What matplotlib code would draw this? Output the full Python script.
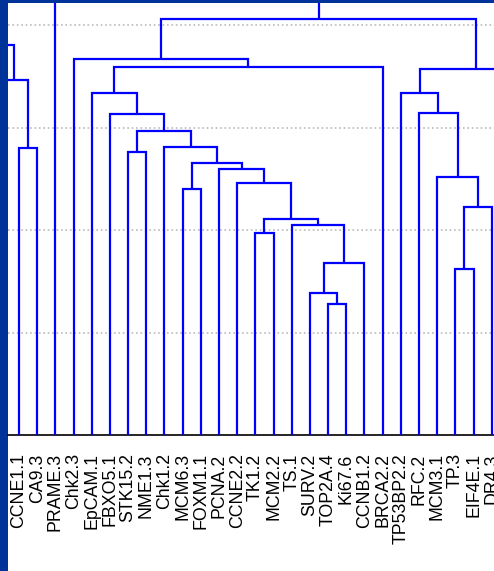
import matplotlib
matplotlib.use("Agg")
import matplotlib.pyplot as plt
from matplotlib.patches import Rectangle

# leaves shown on the axis (left to right)
leaves = ["CCNE1.1", "CA9.3", "PRAME.3", "Chk2.3", "EpCAM.1", "FBXO5.1", "STK15.2",
          "NME1.3", "Chk1.2", "MCM6.3", "FOXM1.1", "PCNA.2", "CCNE2.2", "TK1.2",
          "MCM2.2", "TS.1", "SURV.2", "TOP2A.4", "Ki67.6", "CCNB1.2", "BRCA2.2",
          "TP53BP2.2", "RFC.2", "MCM3.1", "TP.3", "EIF4E.1", "DR4.3"]
# leaves of the full tree that fall outside the cropped view
hidden_left = ["x1", "x2", "x3"]
hidden_right = ["y1", "y2", "y3"]

# merges: node name, left child, right child, height
merge_name = ["a1", "a2", "a3", "a4",
              "b1", "b2", "b3", "b4", "b5", "b6", "b7", "b8", "b9", "b10",
              "b11", "b12", "b13", "b14", "b15", "b16", "b17",
              "c1", "c2", "c3", "c4", "c5", "c6", "c7", "c8",
              "d0", "d1", "d2"]
merge_left = ["CCNE1.1", "x1", "x3", "a3",
              "TOP2A.4", "SURV.2", "b2", "TS.1", "TK1.2", "b5", "CCNE2.2", "PCNA.2",
              "MCM6.3", "b9", "Chk1.2", "STK15.2", "b12", "FBXO5.1", "EpCAM.1",
              "b15", "Chk2.3",
              "TP.3", "c1", "MCM3.1", "RFC.2", "TP53BP2.2", "y1", "c6", "c5",
              "b17", "a4", "d1"]
merge_right = ["CA9.3", "a1", "x2", "a2",
               "Ki67.6", "b1", "CCNB1.2", "b3", "MCM2.2", "b4", "b6", "b7",
               "FOXM1.1", "b8", "b10", "NME1.3", "b11", "b13", "b14",
               "BRCA2.2", "b16",
               "EIF4E.1", "DR4.3", "c2", "c3", "c4", "y2", "y3", "c7",
               "c8", "PRAME.3", "d0"]
merge_height = [2.800, 3.463, 3.00, 3.805,
                1.280, 1.384, 1.679, 2.050, 1.972, 2.108, 2.456, 2.593,
                2.401, 2.654, 2.807, 2.758, 2.966, 3.132, 3.333,
                3.585, 3.663,
                1.621, 2.225, 2.517, 3.146, 3.336, 2.9, 3.2, 3.570,
                4.058, 4.40, 4.70]

pos = {}
hgt = {}
for i, name in enumerate(leaves):
    pos[name] = i
    hgt[name] = 0.0
for i, name in enumerate(hidden_left):
    pos[name] = -1 - i
    hgt[name] = 0.0
for i, name in enumerate(hidden_right):
    pos[name] = len(leaves) + i
    hgt[name] = 0.0

fig = plt.figure(figsize=(4.94, 5.71), dpi=100, facecolor="#003399")
fig.patches.append(Rectangle((8 / 494, 0), 1, 1 - 3.3 / 571, transform=fig.transFigure,
                             facecolor="white", edgecolor="none", zorder=-10))
ax = fig.add_axes([8 / 494, (571 - 435.3) / 571, 1 - 8 / 494, (435.3 - 3.3) / 571])
ax.set_facecolor("none")

for name, l, r, h in zip(merge_name, merge_left, merge_right, merge_height):
    xl, xr = pos[l], pos[r]
    ax.plot([xl, xl, xr, xr], [hgt[l], h, h, hgt[r]], color="#0000ff", lw=1.6,
            solid_capstyle="butt", solid_joinstyle="miter", zorder=3)
    pos[name] = (xl + xr) / 2
    hgt[name] = h

ax.set_xlim((8 - 19) / 18.18, (494 - 19) / 18.18)
ax.set_ylim(0, (435.3 - 3.3) / 102.6)

ax.set_yticks([1, 2, 3, 4])
ax.yaxis.grid(True, linestyle=":", color="#bbbbbb", lw=1.2)
ax.tick_params(axis="y", left=False, labelleft=False)

ax.set_xticks(range(len(leaves)))
ax.set_xticklabels(leaves, rotation=90, fontsize=12.8, family="Liberation Sans",
                   va="top", ha="center")
ax.tick_params(axis="x", direction="in", length=3, width=1.2, color="black", pad=13)

for s in ["top", "left", "right"]:
    ax.spines[s].set_visible(False)
ax.spines["bottom"].set_linewidth(1.2)

plt.savefig("out.png", dpi=100, facecolor=fig.get_facecolor())
